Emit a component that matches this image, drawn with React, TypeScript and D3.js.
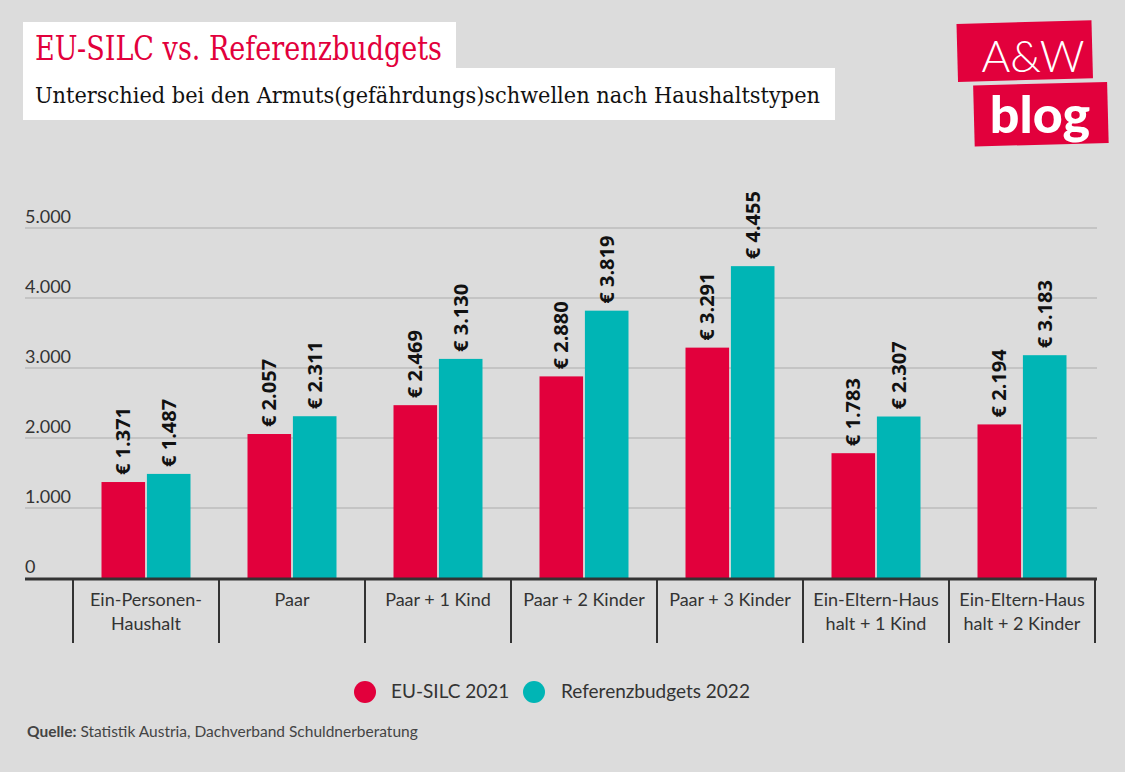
import React from "react";
import * as d3 from "d3";

const categories: string[][] = [
  ["Ein-Personen-", "Haushalt"],
  ["Paar"],
  ["Paar + 1 Kind"],
  ["Paar + 2 Kinder"],
  ["Paar + 3 Kinder"],
  ["Ein-Eltern-Haus", "halt + 1 Kind"],
  ["Ein-Eltern-Haus", "halt + 2 Kinder"],
];
const euSilc2021 = [1371, 2057, 2469, 2880, 3291, 1783, 2194];
const referenzbudgets2022 = [1487, 2311, 3130, 3819, 4455, 2307, 3183];
const seriesNames = ["EU-SILC 2021", "Referenzbudgets 2022"];
const yTicks = [0, 1000, 2000, 3000, 4000, 5000];

const RED = "#e2003c";
const TEAL = "#00b5b5";
const BG = "#dcdcdc";
const SANS = "Lato, 'Noto Sans', sans-serif";
const BOLDSANS = "'Open Sans', 'Noto Sans', sans-serif";
const SERIF = "'DejaVu Serif', 'Liberation Serif', serif";

const fmt = (v: number) => d3.format(",")(v).replace(/,/g, ".");

export default function App() {
  const W = 1125, H = 772;
  const x = d3.scaleBand<number>().domain(d3.range(categories.length)).range([73, 1095]).paddingInner(0).paddingOuter(0);
  const y = d3.scaleLinear().domain([0, 5000]).range([578, 228]);
  const inner = d3.scaleBand<number>().domain([0, 1]).range([0, 89]).paddingInner(0.04);
  const groupOffset = (x.bandwidth() - 89) / 2;
  const series = [euSilc2021, referenzbudgets2022];
  const colors = [RED, TEAL];

  return (
    <svg width={W} height={H} style={{ position: "absolute", left: 0, top: 0, display: "block" }}>
      <rect x={0} y={0} width={W} height={H} fill={BG} />
      {/* Title boxes */}
      <rect x={23} y={22} width={433} height={50} fill="#fff" />
      <rect x={23} y={68} width={812} height={52} fill="#fff" />
      <text x={35} y={60} fill={RED} fontFamily={SERIF} fontSize={33} textLength={407} lengthAdjust="spacingAndGlyphs">EU-SILC vs. Referenzbudgets</text>
      <text x={35} y={103} fill="#111" fontFamily={SERIF} fontSize={23} textLength={785} lengthAdjust="spacingAndGlyphs">Unterschied bei den Armuts(gefährdungs)schwellen nach Haushaltstypen</text>

      {/* Logo */}
      <g transform="rotate(-1.5 1030 80)">
        <rect x={958} y={22} width={135} height={58} fill={RED} />
        <rect x={973} y={84} width={134} height={61} fill={RED} />
      </g>
      <text x={1033} y={72} fill="#fff" fontFamily={SANS} fontSize={44} fontWeight={300} textAnchor="middle">A&amp;W</text>
      <text x={1040} y={133} fill="#fff" fontFamily={SANS} fontSize={52} fontWeight={900} textAnchor="middle">blog</text>

      {/* Gridlines & y labels */}
      {yTicks.map((t) => (
        <g key={t}>
          {t > 0 && <line x1={25} x2={1097} y1={y(t)} y2={y(t)} stroke="#bcbcbc" strokeWidth={1.5} />}
          <text x={25} y={y(t) - 5} fill="#333" fontFamily={SANS} fontSize={18}>{fmt(t)}</text>
        </g>
      ))}

      {/* Bars */}
      {series.map((s, si) =>
        s.map((v, i) => {
          const bx = (x(i) as number) + groupOffset + (inner(si) as number);
          const bw = inner.bandwidth();
          const cx = bx + bw / 2;
          const top = y(v);
          return (
            <g key={`${si}-${i}`}>
              <rect x={bx} y={top} width={bw} height={y(0) - top} fill={colors[si]} />
              <text
                transform={`translate(${cx + 7},${top - 7}) rotate(-90)`}
                fill="#111"
                fontFamily={BOLDSANS}
                fontWeight={700}
                fontSize={20}
              >{`€ ${fmt(v)}`}</text>
            </g>
          );
        })
      )}

      {/* Baseline */}
      <line x1={25} x2={1097} y1={579} y2={579} stroke="#333" strokeWidth={3} />
      {d3.range(categories.length + 1).map((i) => {
        const xx = i < categories.length ? (x(i) as number) : 1095;
        return <line key={i} x1={xx} x2={xx} y1={579} y2={643} stroke="#333" strokeWidth={2} />;
      })}
      {categories.map((lines, i) => (
        <text key={i} x={(x(i) as number) + x.bandwidth() / 2} y={606} textAnchor="middle" fill="#333" fontFamily={SANS} fontSize={18}>
          {lines.map((l, j) => (
            <tspan key={j} x={(x(i) as number) + x.bandwidth() / 2} dy={j === 0 ? 0 : 24}>{l}</tspan>
          ))}
        </text>
      ))}

      {/* Legend */}
      <circle cx={365} cy={692} r={11} fill={RED} />
      <text x={391} y={698} fill="#333" fontFamily={SANS} fontSize={19}>{seriesNames[0]}</text>
      <circle cx={534} cy={692} r={11} fill={TEAL} />
      <text x={561} y={698} fill="#333" fontFamily={SANS} fontSize={19}>{seriesNames[1]}</text>

      {/* Source */}
      <text x={27} y={737} fill="#444" fontFamily={SANS} fontSize={15.5}>
        <tspan fontWeight={700}>Quelle:</tspan> Statistik Austria, Dachverband Schuldnerberatung
      </text>
    </svg>
  );
}
